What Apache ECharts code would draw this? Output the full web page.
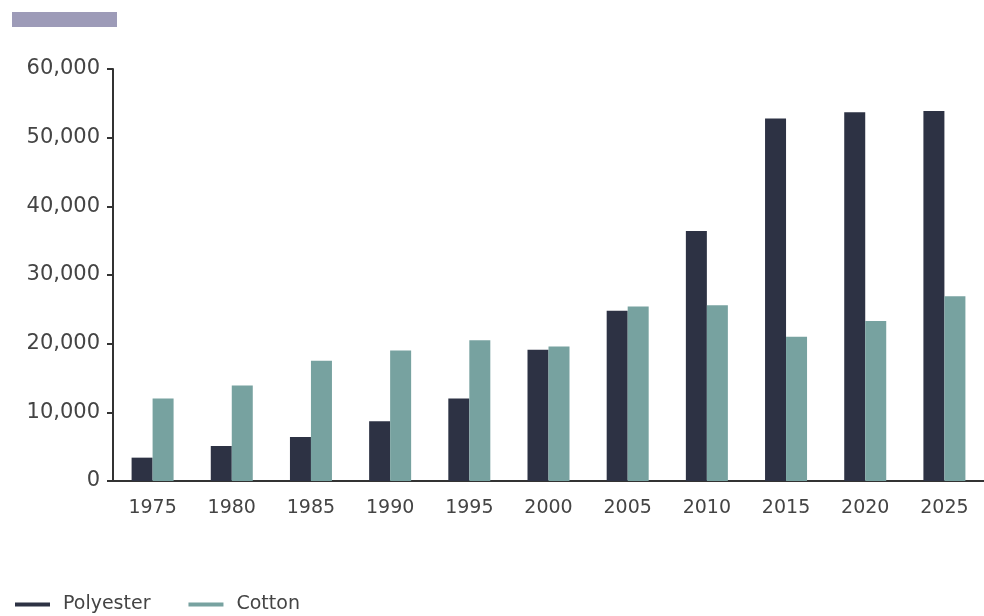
<!DOCTYPE html>
<html>
<head>
<meta charset="utf-8">
<style>
  html, body { margin: 0; padding: 0; background: #ffffff; }
  #chart { width: 984px; height: 616px; }
</style>
<script src="https://cdn.jsdelivr.net/npm/echarts@6/dist/echarts.min.js"></script>
</head>
<body>
<div id="chart"></div>
<script>
// Fibre production by year
const years = ['1975', '1980', '1985', '1990', '1995', '2000', '2005', '2010', '2015', '2020', '2025'];
const polyester = [3400, 5100, 6400, 8700, 12000, 19100, 24800, 36400, 52800, 53700, 53900];
const cotton = [12000, 13900, 17500, 19000, 20500, 19600, 25400, 25600, 21000, 23300, 26900];
const seriesNames = ['Polyester', 'Cotton'];
const yTicks = { min: 0, max: 60000, step: 10000 };

const chart = echarts.init(document.getElementById('chart'), null, { renderer: 'canvas' });

const axisColor = '#333333';
const labelFont = 'DejaVu Sans';

chart.setOption({
  animation: false,
  backgroundColor: '#ffffff',
  graphic: [
    {
      type: 'rect',
      left: 12,
      top: 12,
      shape: { width: 105, height: 15 },
      style: { fill: '#9d9bb8' }
    }
  ],
  grid: { left: 113, right: -4, top: 69, bottom: 135, containLabel: false },
  legend: {
    left: 15,
    top: 595,
    padding: 0,
    icon: 'rect',
    itemWidth: 35,
    itemHeight: 4,
    itemGap: 38,
    textStyle: {
      fontFamily: labelFont,
      fontSize: 19,
      color: '#444444',
      padding: [0, 0, 0, 8]
    },
    data: seriesNames
  },
  xAxis: {
    type: 'category',
    data: years,
    axisLine: { lineStyle: { color: axisColor, width: 2 } },
    axisTick: { show: false },
    axisLabel: {
      fontFamily: labelFont,
      fontSize: 19,
      color: '#444444',
      margin: 18
    }
  },
  yAxis: {
    type: 'value',
    min: yTicks.min,
    max: yTicks.max,
    interval: yTicks.step,
    splitLine: { show: false },
    axisLine: { show: true, lineStyle: { color: axisColor, width: 2 } },
    axisTick: { show: true, length: 6, lineStyle: { color: axisColor, width: 2 } },
    axisLabel: {
      fontFamily: labelFont,
      fontSize: 21,
      color: '#444444',
      margin: 13,
      formatter: v => v.toLocaleString('en-US')
    }
  },
  series: [
    {
      name: seriesNames[0],
      type: 'bar',
      data: polyester,
      barWidth: 21,
      barGap: '0%',
      itemStyle: { color: '#2d3244' }
    },
    {
      name: seriesNames[1],
      type: 'bar',
      data: cotton,
      barWidth: 21,
      barGap: '0%',
      itemStyle: { color: '#77a2a0' }
    }
  ]
});
</script>
</body>
</html>
